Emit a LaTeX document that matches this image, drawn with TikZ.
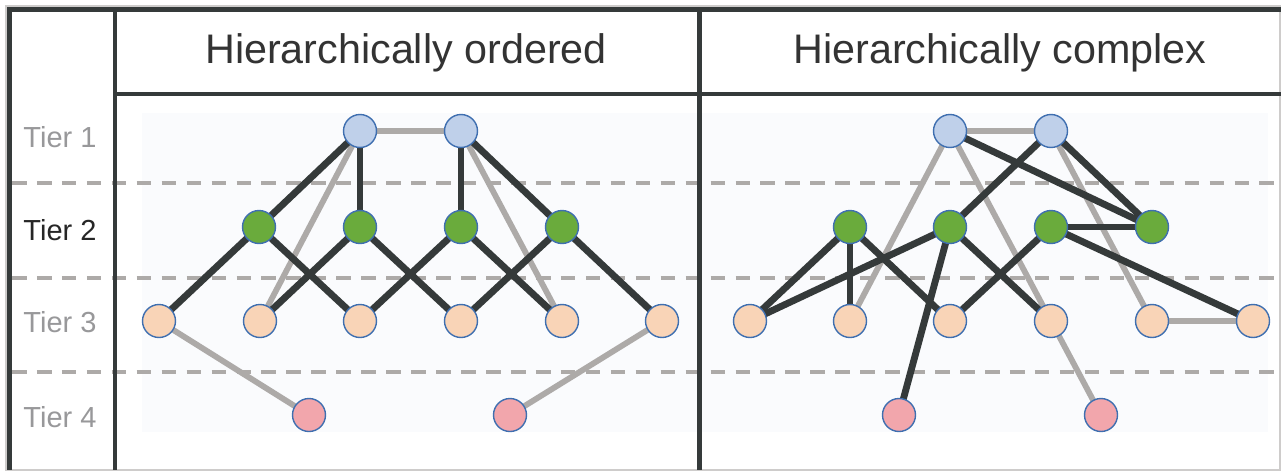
\documentclass[tikz,border=0pt]{standalone}
\usepackage{fontspec}
\setmainfont{Liberation Sans}
\usetikzlibrary{backgrounds}
\pgfdeclarelayer{edges}
\pgfsetlayers{background,edges,main}
\definecolor{darkline}{HTML}{353A3A}
\definecolor{greyline}{HTML}{ADAAA8}
\definecolor{rimblue}{HTML}{3F6FB0}
\definecolor{tieronefill}{HTML}{BFD0EA}
\definecolor{tiertwofill}{HTML}{6AAB3C}
\definecolor{tierthreefill}{HTML}{F9D4B7}
\definecolor{tierfourfill}{HTML}{F2A6AC}
\definecolor{panelbg}{HTML}{FAFBFD}
\definecolor{labelgrey}{HTML}{98989A}
\definecolor{titletext}{HTML}{333333}
\begin{document}
\begin{tikzpicture}[
        x=0.02cm, y=-0.02cm,
        vertex/.style={circle, draw=rimblue, line width=0.8pt, minimum size=0.66cm, inner sep=0pt},
        tierone/.style={vertex, fill=tieronefill},
        tiertwo/.style={vertex, fill=tiertwofill},
        tierthree/.style={vertex, fill=tierthreefill},
        tierfour/.style={vertex, fill=tierfourfill},
        strong/.style={draw=darkline, line width=3.9pt},
        weak/.style={draw=greyline, line width=3.3pt},
        frame/.style={draw=darkline, line width=2.6pt},
        tierline/.style={draw=greyline, line width=2.2pt, dash pattern=on 8.3pt off 5.9pt},
        tiertext/.style={anchor=base, font=\fontsize{16.5}{18}\selectfont, text=labelgrey},
        title/.style={anchor=base, font=\fontsize{23.5}{26}\selectfont, text=titletext}
    ]
        \useasboundingbox (0,0) rectangle (1281,471);

        % light panel areas and tier separators
        \begin{pgfonlayer}{background}
            \fill [white] (0,0) rectangle (1281,471);
            \fill [panelbg] (142,113) rectangle (697,432);
            \fill [panelbg] (702,113) rectangle (1268,432);
            \path [tierline] (12,183) -- (1281,183);
            \path [tierline] (12,278) -- (1281,278);
            \path [tierline] (12,372) -- (1281,372);
        \end{pgfonlayer}

        % frame
        \draw [greyline!60, line width=0.6pt] (6,6) rectangle (1280,470);
        \path [frame] (7,9.5) -- (1281,9.5);
        \path [frame] (9.5,7) -- (9.5,470);
        \path [frame, line width=2.2pt] (115,9.5) -- (115,470);
        \path [frame, line width=2.2pt] (115,94) -- (1281,94);
        \path [frame, line width=3.4pt] (699.5,9.5) -- (699.5,470);

        % headings and tier labels
        \node [title] (ordered) at (406,63) {Hierarchically ordered};
        \node [title] (complex) at (1000,63) {Hierarchically complex};
        \node [tiertext] (lab1) at (60,147) {Tier 1};
        \node [tiertext, text=black!85] (lab2) at (60,240) {Tier 2};
        \node [tiertext] (lab3) at (60,332) {Tier 3};
        \node [tiertext] (lab4) at (60,427) {Tier 4};

        % hierarchically ordered
        \node [tierone] (ot1a) at (360,131) {};
        \node [tierone] (ot1b) at (461,131) {};
        \node [tiertwo] (ot2a) at (259,227) {};
        \node [tiertwo] (ot2b) at (360,227) {};
        \node [tiertwo] (ot2c) at (461,227) {};
        \node [tiertwo] (ot2d) at (562,227) {};
        \node [tierthree] (ot3a) at (159,321) {};
        \node [tierthree] (ot3b) at (260,321) {};
        \node [tierthree] (ot3c) at (360,321) {};
        \node [tierthree] (ot3d) at (461,321) {};
        \node [tierthree] (ot3e) at (562,321) {};
        \node [tierthree] (ot3f) at (662,321) {};
        \node [tierfour] (ot4a) at (309,415) {};
        \node [tierfour] (ot4b) at (510,415) {};

        % hierarchically complex
        \node [tierone] (ct1a) at (950,131) {};
        \node [tierone] (ct1b) at (1051,131) {};
        \node [tiertwo] (ct2a) at (850,227) {};
        \node [tiertwo] (ct2b) at (950,227) {};
        \node [tiertwo] (ct2c) at (1051,227) {};
        \node [tiertwo] (ct2d) at (1152,227) {};
        \node [tierthree] (ct3a) at (750,321) {};
        \node [tierthree] (ct3b) at (850,321) {};
        \node [tierthree] (ct3c) at (950,321) {};
        \node [tierthree] (ct3d) at (1051,321) {};
        \node [tierthree] (ct3e) at (1152,321) {};
        \node [tierthree] (ct3f) at (1253,321) {};
        \node [tierfour] (ct4a) at (899,415) {};
        \node [tierfour] (ct4b) at (1101,415) {};

        \begin{pgfonlayer}{edges}
            % ordered: weak links
            \path [weak] (ot1a.center) -- (ot1b.center);
            \path [weak] (ot1a.center) -- (ot3b.center);
            \path [weak] (ot1b.center) -- (ot3e.center);
            \path [weak] (ot3a.center) -- (ot4a.center);
            \path [weak] (ot3f.center) -- (ot4b.center);
            % ordered: strong links
            \path [strong] (ot1a.center) -- (ot2a.center);
            \path [strong] (ot1a.center) -- (ot2b.center);
            \path [strong] (ot1b.center) -- (ot2c.center);
            \path [strong] (ot1b.center) -- (ot2d.center);
            \path [strong] (ot2a.center) -- (ot3a.center);
            \path [strong] (ot2a.center) -- (ot3c.center);
            \path [strong] (ot2b.center) -- (ot3b.center);
            \path [strong] (ot2b.center) -- (ot3d.center);
            \path [strong] (ot2c.center) -- (ot3c.center);
            \path [strong] (ot2c.center) -- (ot3e.center);
            \path [strong] (ot2d.center) -- (ot3d.center);
            \path [strong] (ot2d.center) -- (ot3f.center);

            % complex: weak links
            \path [weak] (ct1a.center) -- (ct1b.center);
            \path [weak] (ct1a.center) -- (ct3b.center);
            \path [weak] (ct1a.center) -- (ct3d.center);
            \path [weak] (ct3d.center) -- (ct4b.center);
            \path [weak] (ct1b.center) -- (ct3e.center);
            \path [weak] (ct3e.center) -- (ct3f.center);
            % complex: strong links
            \path [strong] (ct1a.center) -- (ct2d.center);
            \path [strong] (ct1b.center) -- (ct2b.center);
            \path [strong] (ct1b.center) -- (ct2d.center);
            \path [strong] (ct2a.center) -- (ct3a.center);
            \path [strong] (ct2a.center) -- (ct3b.center);
            \path [strong] (ct2a.center) -- (ct3c.center);
            \path [strong] (ct2b.center) -- (ct3a.center);
            \path [strong] (ct2b.center) -- (ct4a.center);
            \path [strong] (ct2b.center) -- (ct3d.center);
            \path [strong] (ct2c.center) -- (ct3c.center);
            \path [strong] (ct2c.center) -- (ct2d.center);
            \path [strong] (ct2c.center) -- (ct3f.center);
        \end{pgfonlayer}
    \end{tikzpicture}
\end{document}
